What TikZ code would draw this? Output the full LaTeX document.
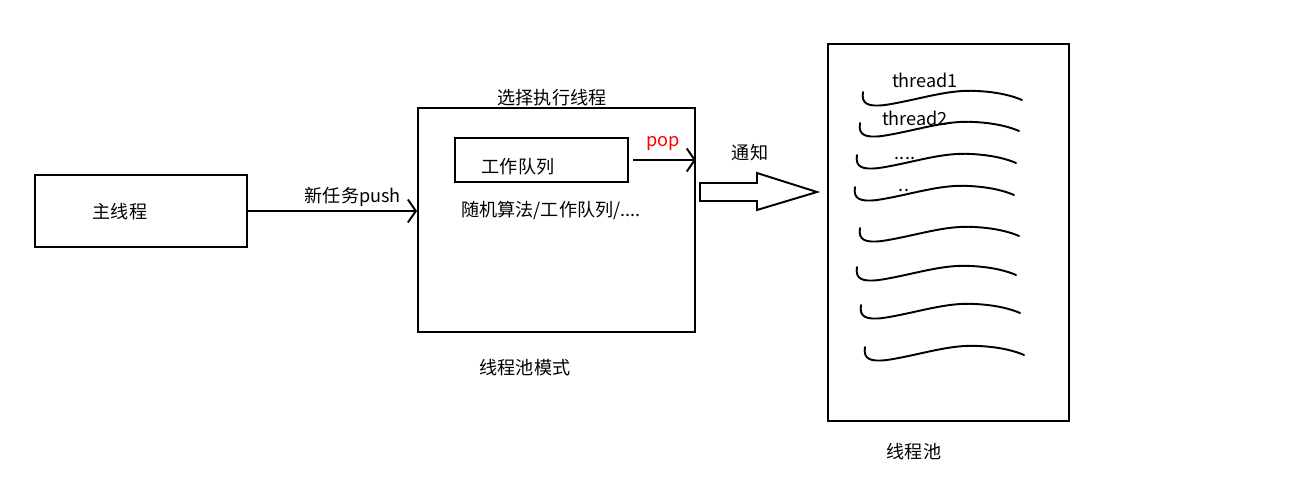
\documentclass[tikz,border=0pt]{standalone}
\usepackage{fontspec}
\setmainfont{Noto Sans CJK SC}
\usetikzlibrary{arrows.meta, positioning, calc}

\begin{document}
\begin{tikzpicture}[x=0.02cm, y=-0.02cm, >={Straight Barb[length=1.6mm, width=4.6mm]},
    box/.style={draw, line width=1.1pt, inner sep=0pt},
    txt/.style={font=\fontsize{10.3}{12}\selectfont, inner sep=1pt},
    wave/.style={line width=1.1pt, line cap=round}]
  \useasboundingbox (0,0) rectangle (1311,490);

  % main thread
  \node[box, minimum width=4.24cm, minimum height=1.44cm] (mainbox) at (141,211) {};
  \node[txt] (maintxt) at (120,212) {主线程};

  % pool mode
  \node[box, minimum width=5.54cm, minimum height=4.48cm] (pool) at (556.5,220) {};
  \node[txt] (pooltitle) at (552,98) {选择执行线程};
  \node[txt] (poolname) at (525,368) {线程池模式};
  \node[box, minimum width=3.46cm, minimum height=0.88cm] (queue) at (541.5,160) {};
  \node[txt] (queuetxt) at (518,167) {工作队列};
  \node[txt] (algo) at (551,210) {随机算法/工作队列/....};

  \draw[->, line width=1.1pt] (mainbox.east) -- (mainbox.east -| pool.west)
    node[txt, above=1pt, pos=0.62] (pushtxt) {新任务push};
  \draw[->, line width=1.1pt] ([xshift=0.08cm]queue.east) -- (queue.east -| pool.east)
    node[txt, above=4pt, pos=0.48, text=red] (poptxt) {pop};

  % notify arrow
  \coordinate (n1) at (700,183);
  \coordinate (n2) at (757,183);
  \coordinate (n3) at (757,173);
  \coordinate (ntip) at (817,192);
  \coordinate (n4) at (757,210);
  \coordinate (n5) at (757,201);
  \coordinate (n6) at (700,201);
  \draw[line width=1.1pt, line join=miter] (n1) -- (n2) -- (n3) -- (ntip) -- (n4) -- (n5) -- (n6) -- cycle;
  \node[txt] (notify) at (750,153) {通知};

  % thread pool
  \node[box, minimum width=4.82cm, minimum height=7.54cm] (threads) at (948.5,232.5) {};
  \node[txt] (threadsname) at (914,452) {线程池};
  \node[txt] (t1) at (925,80) {thread1};
  \node[txt] (t2) at (915,118) {thread2};
  \node[txt] (t3) at (905,158) {....};
  \node[txt] (t4) at (904,190) {..};

  \foreach \x/\y in {863/92, 860/123, 857/155, 855/187, 860/228, 857/267, 861/305, 865/347}
    \draw[wave] (\x,\y) .. controls (\x-2,\y+12) and (\x+5,\y+15) .. (\x+22,\y+13)
      .. controls (\x+55,\y+8) and (\x+85,\y-3) .. (\x+114,\y-1)
      .. controls (\x+135,\y) and (\x+150,\y+4) .. (\x+159,\y+8);
\end{tikzpicture}
\end{document}
